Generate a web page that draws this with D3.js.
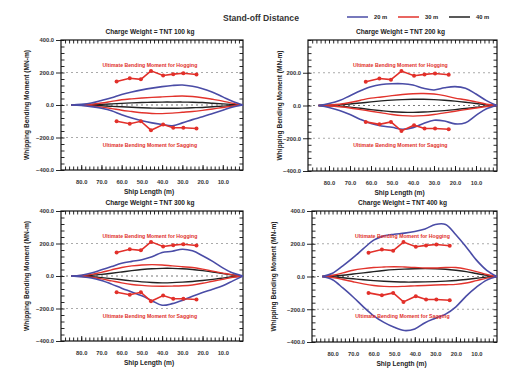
<!DOCTYPE html>
<html lang="en">
  <head>
    <meta charset="utf-8">
    <title>Whipping bending moment vs ship length</title>
    <script type="text/javascript" src="https://d3js.org/d3.v7.min.js" charset="utf-8"></script>
    <style type="text/css">
      body { margin: 0; background: #fff; }
      text { font-family: "Liberation Sans", Arial, sans-serif; fill: #222; }
      .axis text { font-size: 5.8px; font-weight: bold; fill: #333; }
      .axis line { stroke: #111; stroke-width: 0.9; }
      .ptitle { font-size: 6.6px; font-weight: bold; }
      .atitle { font-size: 6.6px; font-weight: bold; }
      .ubm { font-size: 5.2px; font-weight: bold; fill: #e0302a; }
    </style>
  </head>
  <body>
<script type="text/javascript">

// ship stations (m) where the envelopes were read
var stations = [85,80,75,70,65,60,55,50,45,40,35,30,25,20,15,10,5,0];

// ultimate bending moment points (same in every panel)
var ubmX     = [62.5,56,50.5,45.5,39.5,34.5,29.5,23];
var hogging  = [145,165,158,210,182,190,195,188];
var sagging  = [-100,-115,-100,-155,-120,-140,-140,-145];

var xTicks = [80,70,60,50,40,30,20,10];
var yTicks = [400,200,0,-200,-400];
var standoffs = ["20 m","30 m","40 m"];
var charges = ["Charge Weight = TNT 100 kg","Charge Weight = TNT 200 kg",
               "Charge Weight = TNT 300 kg","Charge Weight = TNT 400 kg"];

// TNT 100 kg
var t100_20_hog = [0,4,12,28,45,65,80,93,104,113,120,123,115,100,78,50,22,0];
var t100_20_sag = [0,-3,-10,-20,-35,-60,-80,-97,-110,-120,-128,-110,-90,-72,-52,-32,-12,0];
var t100_30_hog = [0,2,5,12,22,32,38,43,47,50,53,55,52,45,35,24,10,0];
var t100_30_sag = [0,-2,-6,-13,-22,-32,-40,-48,-52,-53,-50,-45,-40,-33,-25,-15,-6,0];
var t100_40_hog = [0,1,2,4,7,10,13,15,17,18,18,18,17,15,11,7,3,0];
var t100_40_sag = [0,-1,-3,-5,-8,-11,-14,-17,-19,-20,-20,-19,-17,-15,-11,-7,-3,0];
// TNT 200 kg
var t200_20_hog = [0,12,30,60,90,115,128,133,133,125,105,95,108,115,105,70,30,0];
var t200_20_sag = [0,-12,-30,-55,-85,-110,-125,-133,-145,-135,-110,-90,-95,-112,-105,-60,-20,0];
var t200_30_hog = [0,3,8,18,32,45,52,60,67,72,73,70,60,45,35,22,8,0];
var t200_30_sag = [0,-3,-8,-15,-25,-35,-45,-55,-62,-65,-62,-55,-45,-35,-25,-15,-6,0];
var t200_40_hog = [0,2,5,9,15,22,28,33,36,38,38,36,32,27,20,12,5,0];
var t200_40_sag = [0,-2,-5,-10,-17,-25,-32,-38,-41,-42,-40,-36,-31,-25,-18,-11,-4,0];
// TNT 300 kg
var t300_20_hog = [0,5,18,38,58,78,90,100,118,145,152,165,155,125,90,50,18,0];
var t300_20_sag = [0,-5,-12,-28,-50,-75,-98,-122,-152,-180,-170,-150,-125,-102,-82,-60,-30,0];
var t300_30_hog = [0,3,10,22,38,52,62,68,70,68,62,57,52,42,30,18,7,0];
var t300_30_sag = [0,-3,-8,-18,-30,-42,-52,-58,-62,-63,-62,-60,-55,-45,-32,-20,-8,0];
var t300_40_hog = [0,2,5,10,17,25,33,40,45,47,47,45,40,33,25,15,6,0];
var t300_40_sag = [0,-2,-5,-10,-16,-23,-30,-36,-40,-42,-41,-38,-34,-28,-21,-13,-5,0];
// TNT 400 kg
var t400_20_hog = [0,20,65,115,170,222,248,258,265,275,290,318,318,255,180,100,38,0];
var t400_20_sag = [0,-20,-70,-125,-185,-240,-280,-310,-330,-320,-282,-255,-230,-185,-120,-65,-22,0];
var t400_30_hog = [0,8,22,38,48,55,58,60,58,55,52,52,55,55,45,30,12,0];
var t400_30_sag = [0,-6,-18,-32,-45,-55,-60,-62,-60,-57,-55,-52,-50,-48,-40,-25,-10,0];
var t400_40_hog = [0,3,8,15,22,30,37,42,45,47,48,47,44,38,30,18,7,0];
var t400_40_sag = [0,-3,-8,-14,-20,-25,-29,-32,-34,-34,-33,-31,-28,-24,-18,-11,-4,0];

var colors = {"20 m": "#4a4ca6", "30 m": "#e2332c", "40 m": "#222222"};

var curves = [
  [t100_20_hog,t100_20_sag,t100_30_hog,t100_30_sag,t100_40_hog,t100_40_sag],
  [t200_20_hog,t200_20_sag,t200_30_hog,t200_30_sag,t200_40_hog,t200_40_sag],
  [t300_20_hog,t300_20_sag,t300_30_hog,t300_30_sag,t300_40_hog,t300_40_sag],
  [t400_20_hog,t400_20_sag,t400_30_hog,t400_30_sag,t400_40_hog,t400_40_sag]
];

// panel boxes (pixels)
var boxes = [
  {x0: 61,  x1: 243, y0: 40,  y1: 170, ty: 27,  topLabel: true},
  {x0: 308, x1: 497, y0: 40,  y1: 171, ty: 280, topLabel: false},
  {x0: 61,  x1: 243, y0: 211, y1: 341, ty: 27,  topLabel: true},
  {x0: 312, x1: 497, y0: 211, y1: 342, ty: 274, topLabel: true}
];

var svg = d3.select("body").append("svg")
    .attr("width", 520)
    .attr("height", 368);

svg.append("rect").attr("width", 520).attr("height", 368).attr("fill", "#fff");

// header + legend
svg.append("text")
    .attr("x", 223).attr("y", 21)
    .style("font-size", "8.6px").style("font-weight", "bold").style("fill", "#333")
    .text("Stand-off Distance");

var leg = svg.append("g").selectAll("g").data(standoffs).join("g")
    .attr("transform", (d, i) => `translate(${347 + i * 51},17)`);
leg.append("line").attr("x1", 0).attr("x2", 21)
    .attr("stroke", d => colors[d]).attr("stroke-width", 1.5);
leg.append("text").attr("x", 27).attr("y", 2.2)
    .style("font-size", "5.8px").style("font-weight", "bold")
    .text(d => d);

var fmt = d3.format(".1f");

boxes.forEach(function(b, k) {
  var x = d3.scaleLinear().domain([90, 0]).range([b.x0, b.x1]);
  var y = d3.scaleLinear().domain([-400, 400]).range([b.y1, b.y0]);
  var g = svg.append("g");

  // reference lines
  g.selectAll("line.ref").data([200, 0, -200]).join("line")
      .attr("class", "ref")
      .attr("x1", b.x0).attr("x2", b.x1)
      .attr("y1", d => y(d)).attr("y2", d => y(d))
      .attr("stroke", d => d === 0 ? "#777" : "#aaa")
      .attr("stroke-width", 1)
      .attr("stroke-dasharray", "2,3");

  // axes: minor ticks inward, majors a bit longer
  var xMinor = d3.range(2, 90, 2), yMinor = d3.range(-400, 401, 40);
  g.append("g").attr("class", "axis").attr("transform", `translate(0,${b.y1})`)
      .call(d3.axisBottom(x).tickValues(xMinor).tickSize(-3.5).tickFormat(""));
  g.append("g").attr("class", "axis").attr("transform", `translate(0,${b.y1})`)
      .call(d3.axisBottom(x).tickValues(xTicks).tickSizeInner(-5).tickSizeOuter(0)
        .tickPadding(10).tickFormat(fmt));
  g.append("g").attr("class", "axis").attr("transform", `translate(0,${b.y0})`)
      .call(d3.axisTop(x).tickValues(xMinor).tickSize(-3.5).tickFormat(""));
  g.append("g").attr("class", "axis").attr("transform", `translate(${b.x0},0)`)
      .call(d3.axisLeft(y).tickValues(yMinor).tickSize(-3.5).tickFormat(""));
  g.append("g").attr("class", "axis").attr("transform", `translate(${b.x0},0)`)
      .call(d3.axisLeft(y).tickValues(b.topLabel ? yTicks : yTicks.slice(1))
        .tickSizeInner(5).tickSizeOuter(0).tickPadding(2).tickFormat(fmt));
  g.append("g").attr("class", "axis").attr("transform", `translate(${b.x1},0)`)
      .call(d3.axisRight(y).tickValues(yMinor).tickSize(-3.5).tickFormat(""));
  g.selectAll(".axis .domain").remove();

  g.append("rect")
      .attr("x", b.x0).attr("y", b.y0)
      .attr("width", b.x1 - b.x0).attr("height", b.y1 - b.y0)
      .attr("fill", "none").attr("stroke", "#111").attr("stroke-width", 1.2);

  // envelopes, back to front: 40 m, 30 m, 20 m
  var line = d3.line().x((d, i) => x(stations[i])).y(d => y(d)).curve(d3.curveCatmullRom);
  var set = curves[k];
  [4, 5, 2, 3, 0, 1].forEach(function(j) {
    g.append("path")
        .attr("d", line(set[j]))
        .attr("fill", "none")
        .attr("stroke", colors[standoffs[Math.floor(j / 2)]])
        .attr("stroke-width", j < 2 ? 1.6 : 1.4);
  });

  // ultimate bending moment points
  [hogging, sagging].forEach(function(vals) {
    var pl = d3.line().x((d, i) => x(ubmX[i])).y(d => y(d));
    g.append("path").attr("d", pl(vals))
        .attr("fill", "none").attr("stroke", "#e2302a").attr("stroke-width", 1.6);
    g.selectAll(null).data(vals).join("circle")
        .attr("cx", (d, i) => x(ubmX[i])).attr("cy", d => y(d))
        .attr("r", 2).attr("fill", "#e2302a");
  });

  var cx = x(46);
  g.append("text").attr("class", "ubm").attr("text-anchor", "middle")
      .attr("x", cx).attr("y", y(200) - 6)
      .text("Ultimate Bending Moment for Hogging");
  g.append("text").attr("class", "ubm").attr("text-anchor", "middle")
      .attr("x", cx).attr("y", y(-200) + 9)
      .text("Ultimate Bending Moment for Sagging");

  // titles
  g.append("text").attr("class", "ptitle").attr("text-anchor", "middle")
      .attr("x", (b.x0 + b.x1) / 2 - 2).attr("y", b.y0 - 6)
      .text(charges[k]);
  g.append("text").attr("class", "atitle").attr("text-anchor", "middle")
      .attr("x", (b.x0 + b.x1) / 2 - 3).attr("y", b.y1 + 24)
      .text("Ship Length (m)");
  g.append("text").attr("class", "atitle").attr("text-anchor", "middle")
      .attr("transform", `translate(${b.ty},${(b.y0 + b.y1) / 2}) rotate(-90)`)
      .attr("dy", "0.35em")
      .text("Whipping Bending Moment (MN-m)");
});

</script>
  </body>
</html>
